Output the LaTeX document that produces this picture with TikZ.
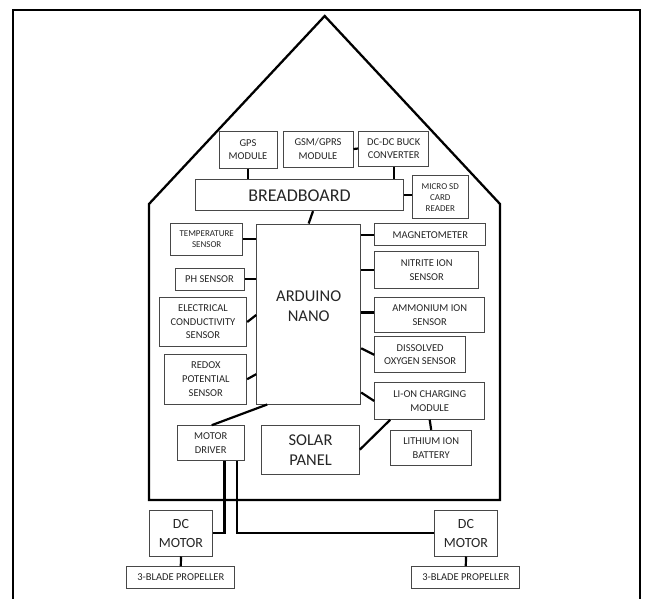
\documentclass[tikz,border=0pt]{standalone}
\usepackage{fontspec}
\setmainfont{Carlito}
\usetikzlibrary{calc}
\tikzset{
  box/.style={draw=black!72, line width=1pt, fill=white, inner sep=0pt, align=center, text=black!85},
  fs/.style={font=\fontsize{10.5}{13.6}\selectfont},
  fxs/.style={font=\fontsize{9}{10.8}\selectfont},
  fbig/.style={font=\fontsize{16.5}{20}\selectfont},
  fmid/.style={font=\fontsize{14}{19}\selectfont},
  wire/.style={line width=2.2pt, black},
  outline/.style={line width=2.3pt, black, line join=miter},
}
\begin{document}
\begin{tikzpicture}[x=1pt,y=-1pt]
\useasboundingbox (0,0) rectangle (646,598);
% outer frame
\draw[line width=2pt] (12.7,600) -- (12.7,10) -- (640,10) -- (640,600);
% house
\draw[outline] (149,500) -- (149,204) -- (324.7,16) -- (500,204) -- (500,500) -- cycle;

% nodes
\node[box,fs,minimum width=58pt,minimum height=37pt] (gps) at (248,149.5) {GPS\\MODULE};
\node[box,fs,minimum width=70pt,minimum height=36pt] (gsm) at (318,149) {GSM/GPRS\\MODULE};
\node[box,fs,minimum width=70pt,minimum height=35pt] (dcdc) at (393.7,148.5) {DC-DC BUCK\\CONVERTER};
\node[box,font=\fontsize{18}{20}\selectfont,minimum width=207.6pt,minimum height=30.7pt] (bb) at (299.5,195.3) {BREADBOARD};
\node[box,fxs,minimum width=56pt,minimum height=43.3pt] (sd) at (440.3,197.3) {MICRO SD\\CARD\\READER};
\node[box,fxs,minimum width=72pt,minimum height=31.7pt] (temp) at (206.7,239.2) {TEMPERATURE\\SENSOR};
\node[box,minimum width=104pt,minimum height=180pt,
      label={[fbig,align=center,text=black!85,yshift=7.5pt]center:ARDUINO\\NANO}] (ard) at (308.7,314) {};
\node[box,fs,minimum width=111.3pt,minimum height=21.7pt] (mag) at (430.3,234.8) {MAGNETOMETER};
\node[box,fs,minimum width=69pt,minimum height=21.7pt] (ph) at (209.5,279.2) {PH SENSOR};
\node[box,fs,minimum width=104pt,minimum height=37pt] (nit) at (426.7,270.2) {NITRITE ION\\SENSOR};
\node[box,fs,minimum width=87.4pt,minimum height=49.4pt] (ec) at (203,322) {ELECTRICAL\\CONDUCTIVITY\\SENSOR};
\node[box,fs,minimum width=110pt,minimum height=35.4pt] (amm) at (429.7,315) {AMMONIUM ION\\SENSOR};
\node[box,fs,minimum width=91pt,minimum height=35.7pt] (dis) at (420.2,354.8) {DISSOLVED\\OXYGEN SENSOR};
\node[box,fs,minimum width=81.7pt,minimum height=49.7pt] (red) at (205.8,379.2) {REDOX\\POTENTIAL\\SENSOR};
\node[box,fs,minimum width=110pt,minimum height=36.6pt] (lion) at (429.7,401) {LI-ON CHARGING\\MODULE};
\node[box,fs,minimum width=66.7pt,minimum height=35pt] (md) at (210.7,443.2) {MOTOR\\DRIVER};
\node[box,fbig,minimum width=97.6pt,minimum height=49.3pt] (solar) at (310.5,449.7) {SOLAR\\PANEL};
\node[box,fs,minimum width=81pt,minimum height=35.4pt] (bat) at (431.2,448) {LITHIUM ION\\BATTERY};
\node[box,fmid,minimum width=63.4pt,minimum height=46pt] (dcl) at (181,533) {DC\\MOTOR};
\node[box,fmid,minimum width=63.4pt,minimum height=46pt] (dcr) at (466,533) {DC\\MOTOR};
\node[box,fs,minimum width=108.3pt,minimum height=21.6pt] (pl) at (180.8,577.5) {3-BLADE PROPELLER};
\node[box,fs,minimum width=108.3pt,minimum height=21.6pt] (pr) at (465.8,577.5) {3-BLADE PROPELLER};

% connectors
\draw[wire] (gsm.east) -- (dcdc.west);
\draw[wire] (gps.south) -- (gps.south |- bb.north);
\draw[wire] (dcdc.south) -- (dcdc.south |- bb.north);
\draw[wire] (bb.east) -- (sd.west |- bb.east);
\draw[wire] ($(bb.south)+(13.5,0)$) -- (ard.north);
\draw[wire] (temp.east) -- (ard.west |- temp.east);
\draw[wire] (mag.west) -- (ard.east |- mag.west);
\draw[wire] (ph.east) -- (ard.west |- ph.east);
\draw[wire] (nit.west) -- (ard.east |- nit.west);
\draw[wire] (ec.east) -- ($(ard.west |- ec.east)+(0,-7)$);
\draw[wire] ([yshift=2.5pt]amm.west) -- ([yshift=2.5pt]ard.east |- amm.west);
\draw[wire] ($(ard.east |- dis.west)+(0,-6.5)$) -- (dis.west);
\draw[wire] (red.east) -- ($(ard.west |- red.east)+(0,-5)$);
\draw[wire] ($(ard.east |- lion.west)+(0,-8.5)$) -- (lion.west);
\draw[wire] ($(ard.south west)+(11,0)$) -- ($(md.north)+(1,0)$);
\draw[wire] (solar.east) -- ($(lion.south west)+(16,0)$);
\draw[wire] (lion.south) -- (bat.north);
\draw[wire] ($(md.south west)+(47.7,0)$) |- (dcl.east);
\draw[wire] ($(md.south west)+(60.4,0)$) |- (dcr.west);
\draw[wire] (dcl.south) -- (pl.north);
\draw[wire] (dcr.south) -- (pr.north);
\end{tikzpicture}
\end{document}
